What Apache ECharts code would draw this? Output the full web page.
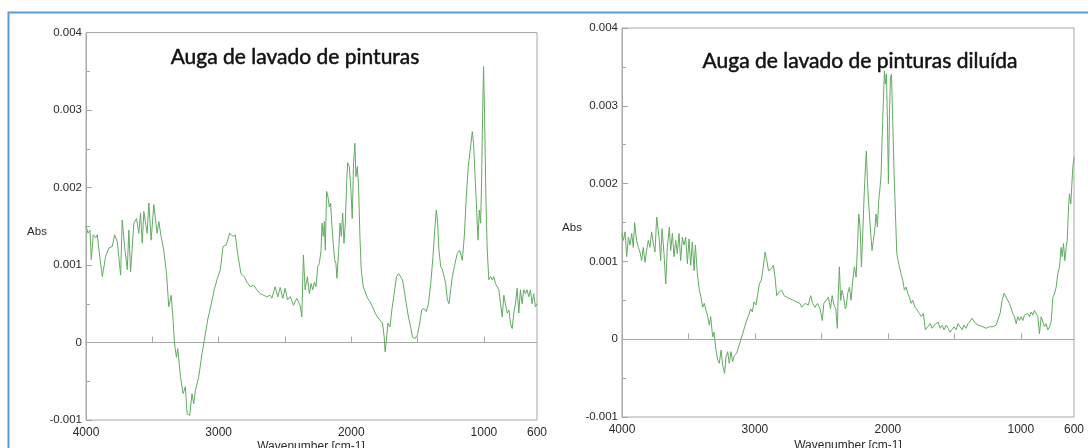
<!DOCTYPE html>
<html>
<head>
<meta charset="utf-8">
<script src="https://cdn.jsdelivr.net/npm/echarts@6/dist/echarts.min.js"></script>
<style>
html,body{margin:0;padding:0;background:#fff;}
#chart{width:1088px;height:448px;}
</style>
</head>
<body>
<div id="chart"></div>
<script>
// ---- Titles & labels ----
const titleLeft = 'Auga de lavado de pinturas';
const titleRight = 'Auga de lavado de pinturas diluída';
const xAxisTitle = 'Wavenumber [cm-1]';
const yAxisTitle = 'Abs';
const xLabelValues = [4000, 3000, 2000, 1000, 600];
const xTickValues = [4000, 3500, 3000, 2500, 2000, 1500, 1000];

// ---- Left spectrum: wavenumber (cm-1) and absorbance (in units of 0.001 Abs) ----
const leftWavenumber = [4000,3985,3970,3960,3945,3927,3915,3902,3877,3852,3827,3802,3784,3764,3739,3727,3709,3689,3677,3664,3639,3619,3602,3589,3576,3564,3539,3526,3509,3489,3476,3464,3451,3434,3414,3393,3376,3358,3343,3333,3318,3308,3288,3268,3251,3238,3218,3201,3188,3175,3150,3125,3108,3083,3058,3033,3013,2987,2967,2942,2917,2892,2875,2857,2832,2807,2787,2762,2737,2712,2687,2662,2637,2612,2599,2574,2554,2536,2516,2499,2481,2460,2436,2411,2386,2373,2361,2348,2331,2316,2303,2291,2278,2266,2253,2241,2228,2221,2211,2203,2196,2186,2176,2166,2156,2146,2136,2126,2116,2108,2095,2085,2075,2065,2055,2045,2035,2028,2015,2003,1993,1983,1973,1965,1955,1945,1935,1925,1910,1895,1877,1860,1840,1820,1802,1785,1765,1752,1745,1735,1724,1709,1694,1677,1659,1644,1629,1614,1597,1582,1569,1552,1539,1519,1501,1484,1469,1451,1434,1419,1401,1384,1369,1359,1349,1339,1326,1313,1301,1288,1276,1263,1251,1238,1218,1201,1183,1163,1148,1133,1118,1103,1088,1078,1068,1055,1045,1035,1025,1018,1010,1003,995,985,975,963,950,938,925,913,900,887,875,862,850,837,825,812,800,787,775,762,750,737,725,712,700,687,675,662,650,637,625,612,600];
const leftAbsMilli = [1.50,1.41,1.45,1.07,1.39,1.35,1.39,1.19,0.85,1.11,1.22,1.24,1.39,1.30,0.87,1.58,1.24,0.94,1.45,0.91,1.54,1.60,1.41,1.67,1.28,1.69,1.41,1.80,1.32,1.78,1.80,1.41,1.56,1.37,1.19,0.89,0.46,0.61,0.29,-0.01,-0.19,-0.08,-0.44,-0.66,-0.57,-0.92,-0.94,-0.66,-0.79,-0.62,-0.44,-0.14,0.03,0.29,0.48,0.68,0.81,0.94,1.24,1.26,1.41,1.37,1.39,1.15,0.89,0.85,0.78,0.72,0.74,0.68,0.63,0.61,0.59,0.61,0.57,0.72,0.59,0.71,0.57,0.70,0.55,0.59,0.48,0.57,0.48,0.33,1.13,0.68,0.85,0.63,0.76,0.68,0.78,0.72,0.98,1.02,1.19,1.54,1.37,1.56,1.19,1.95,1.88,1.75,1.80,1.50,1.28,1.07,1.02,0.83,1.19,1.54,1.37,1.67,1.28,1.54,2.06,2.32,2.27,1.97,1.60,2.32,2.57,2.14,2.27,2.01,1.37,0.94,0.72,0.70,0.57,0.53,0.46,0.38,0.33,0.29,0.25,0.07,-0.12,0.03,0.25,0.20,0.42,0.63,0.85,0.89,0.91,0.81,0.63,0.46,0.33,0.20,0.07,0.05,0.10,0.25,0.42,0.44,0.40,0.50,0.76,1.11,1.50,1.71,1.54,1.19,0.98,0.94,0.94,0.76,0.55,0.50,0.68,0.85,1.02,1.15,1.19,1.06,1.37,1.88,2.27,2.49,2.72,2.57,2.19,1.71,1.32,1.71,1.54,2.06,2.92,3.56,2.92,1.84,1.19,0.81,0.85,0.81,0.85,0.76,0.72,0.68,0.50,0.33,0.61,0.59,0.38,0.42,0.25,0.18,0.38,0.50,0.70,0.38,0.68,0.50,0.68,0.63,0.68,0.59,0.68,0.50,0.63,0.46,0.50];

// ---- Right spectrum (diluted) ----
const rightWavenumber = [4000,3990,3977,3965,3952,3940,3927,3915,3905,3890,3877,3865,3852,3840,3827,3815,3802,3790,3777,3764,3752,3739,3729,3719,3709,3699,3684,3671,3659,3644,3634,3621,3609,3596,3584,3571,3559,3546,3534,3521,3508,3496,3483,3471,3458,3448,3433,3418,3406,3393,3381,3368,3355,3343,3333,3318,3308,3293,3280,3268,3255,3243,3228,3218,3205,3193,3180,3168,3155,3137,3122,3107,3092,3077,3062,3047,3032,3019,3007,2992,2979,2967,2952,2937,2924,2911,2898,2886,2874,2861,2849,2836,2816,2799,2781,2761,2736,2711,2687,2661,2649,2623,2598,2581,2566,2548,2530,2510,2493,2482,2467,2447,2432,2419,2406,2392,2380,2374,2365,2355,2345,2335,2320,2314,2302,2289,2277,2264,2252,2239,2227,2219,2209,2199,2189,2179,2169,2162,2154,2146,2139,2129,2119,2109,2099,2089,2079,2069,2059,2051,2044,2034,2026,2019,2011,2003,1996,1988,1981,1973,1963,1953,1943,1933,1923,1913,1901,1888,1876,1863,1850,1838,1825,1813,1795,1778,1763,1748,1733,1718,1700,1682,1667,1652,1637,1622,1607,1592,1577,1562,1547,1532,1517,1502,1487,1472,1457,1442,1427,1412,1397,1382,1366,1351,1336,1321,1306,1286,1261,1236,1211,1186,1171,1156,1141,1126,1111,1096,1086,1075,1060,1048,1035,1023,1010,998,985,973,960,948,935,922,910,897,885,872,860,847,835,822,810,797,784,772,759,747,734,722,709,697,689,679,669,659,651,641,634,624,616,609,599];
const rightAbsMilli = [1.36,1.27,1.38,1.06,1.31,1.21,1.36,1.18,1.50,1.27,1.18,1.12,1.01,1.18,0.99,1.14,1.27,1.18,1.38,1.23,1.12,1.57,1.59,1.27,1.01,1.42,1.10,0.71,1.18,1.44,1.14,1.36,1.06,1.27,1.10,1.36,1.01,1.31,1.21,1.31,0.97,1.29,0.95,1.25,0.88,1.21,0.84,0.63,0.54,0.41,0.46,0.37,0.29,0.18,0.29,0.03,0.09,-0.14,-0.27,-0.31,-0.14,-0.33,-0.44,-0.23,-0.16,-0.31,-0.16,-0.29,-0.21,-0.18,-0.16,-0.01,0.07,0.16,0.24,0.31,0.39,0.35,0.48,0.44,0.58,0.71,0.76,0.93,1.12,1.01,0.88,0.86,0.91,0.95,0.80,0.56,0.61,0.63,0.56,0.54,0.52,0.50,0.48,0.46,0.41,0.46,0.44,0.56,0.46,0.41,0.46,0.39,0.24,0.46,0.44,0.54,0.39,0.56,0.44,0.39,0.14,0.54,0.93,0.50,0.63,0.56,0.39,0.42,0.59,0.67,0.50,0.76,0.93,0.80,1.27,1.61,1.44,0.93,1.36,1.83,2.21,2.42,2.04,1.78,1.61,1.36,1.14,1.27,1.40,1.61,1.44,1.78,1.95,2.12,2.55,3.06,3.45,3.28,3.41,2.77,2.00,2.89,3.36,3.41,2.77,2.12,1.61,1.10,1.01,0.93,0.84,0.76,0.63,0.67,0.59,0.54,0.46,0.50,0.41,0.37,0.33,0.29,0.33,0.12,0.16,0.20,0.14,0.18,0.16,0.22,0.14,0.18,0.12,0.18,0.14,0.09,0.07,0.16,0.12,0.20,0.16,0.12,0.18,0.14,0.20,0.22,0.27,0.22,0.20,0.18,0.16,0.16,0.14,0.16,0.16,0.18,0.20,0.33,0.50,0.59,0.54,0.56,0.46,0.41,0.33,0.29,0.20,0.29,0.24,0.29,0.24,0.31,0.29,0.33,0.29,0.35,0.31,0.37,0.35,0.29,0.07,0.29,0.29,0.16,0.20,0.12,0.16,0.22,0.54,0.58,0.67,0.84,0.93,1.18,1.06,1.23,1.01,1.18,1.27,1.70,1.87,1.74,1.99,2.21,2.34];

function pairs(wn, milli) {
  const n = Math.min(wn.length, milli.length);
  const out = [];
  for (let i = 0; i < n; i++) out.push([wn[i], milli[i] / 1000]);
  return out;
}

const axisGray = '#a8a8a8';
const labelColor = '#2a2a2a';
const lineGreen = '#62ab62';
const labelFont = '"Liberation Sans", Arial, sans-serif';
const titleFont = '21px Lato, "Open Sans", sans-serif';

function makeX(gridIndex) {
  return {
    type: 'value', gridIndex, inverse: true, min: 600, max: 4000,
    axisLine: { show: true, lineStyle: { color: axisGray } },
    axisTick: { show: true, inside: true, length: 6, customValues: xTickValues, lineStyle: { color: axisGray } },
    axisLabel: { customValues: xLabelValues, color: labelColor, fontSize: 12, fontFamily: labelFont, margin: 7,
      formatter: v => String(v) },
    splitLine: { show: false }
  };
}
function makeY(gridIndex) {
  return {
    type: 'value', gridIndex, min: -0.001, max: 0.004, interval: 0.001,
    axisLine: { show: true, lineStyle: { color: axisGray } },
    axisTick: { show: true, inside: true, length: 6, lineStyle: { color: axisGray } },
    minorTick: { show: true, splitNumber: 2, length: 4, lineStyle: { color: axisGray } },
    axisLabel: { color: labelColor, fontSize: 11.5, fontFamily: labelFont, margin: 4,
      formatter: v => (Math.abs(v) < 1e-9 ? '0' : v.toFixed(3)) },
    splitLine: { show: false }
  };
}
function makeSeries(i, data) {
  return {
    type: 'line', xAxisIndex: i, yAxisIndex: i, data, showSymbol: false, symbol: 'none',
    lineStyle: { color: lineGreen, width: 1 }, z: 3,
    markLine: { silent: true, symbol: 'none', label: { show: false },
      lineStyle: { color: axisGray, type: 'solid', width: 1 }, data: [{ yAxis: 0 }], z: 2 }
  };
}

const chart = echarts.init(document.getElementById('chart'), null, { renderer: 'canvas' });
chart.setOption({
  animation: false,
  backgroundColor: '#fff',
  grid: [
    { left: 86, right: 551, top: 32.5, bottom: 28, show: true, borderColor: axisGray, borderWidth: 1, containLabel: false },
    { left: 622, right: 14, top: 28, bottom: 31, show: true, borderColor: axisGray, borderWidth: 1, containLabel: false }
  ],
  xAxis: [makeX(0), makeX(1)],
  yAxis: [makeY(0), makeY(1)],
  series: [makeSeries(0, pairs(leftWavenumber, leftAbsMilli)), makeSeries(1, pairs(rightWavenumber, rightAbsMilli))],
  graphic: [
    { type: 'rect', shape: { x: 8.5, y: 12.5, width: 1200, height: 600 }, style: { fill: 'none', stroke: '#5b9bd5', lineWidth: 2 }, silent: true, z: 10 },
    { type: 'text', x: 295, y: 57, style: { text: titleLeft, fill: '#111', stroke: '#111', lineWidth: 0.5, font: titleFont, textAlign: 'center', textVerticalAlign: 'middle' } },
    { type: 'text', x: 860, y: 61, style: { text: titleRight, fill: '#111', stroke: '#111', lineWidth: 0.5, font: titleFont, textAlign: 'center', textVerticalAlign: 'middle' } },
    { type: 'text', x: 37, y: 232, style: { text: yAxisTitle, fill: labelColor, font: '11.5px ' + labelFont, textAlign: 'center', textVerticalAlign: 'middle' } },
    { type: 'text', x: 572, y: 228, style: { text: yAxisTitle, fill: labelColor, font: '11.5px ' + labelFont, textAlign: 'center', textVerticalAlign: 'middle' } },
    { type: 'text', x: 311, y: 441, style: { text: xAxisTitle, fill: labelColor, font: '12px ' + labelFont, textAlign: 'center', textVerticalAlign: 'top' } },
    { type: 'text', x: 848, y: 440, style: { text: xAxisTitle, fill: labelColor, font: '12px ' + labelFont, textAlign: 'center', textVerticalAlign: 'top' } }
  ]
});
</script>
</body>
</html>
